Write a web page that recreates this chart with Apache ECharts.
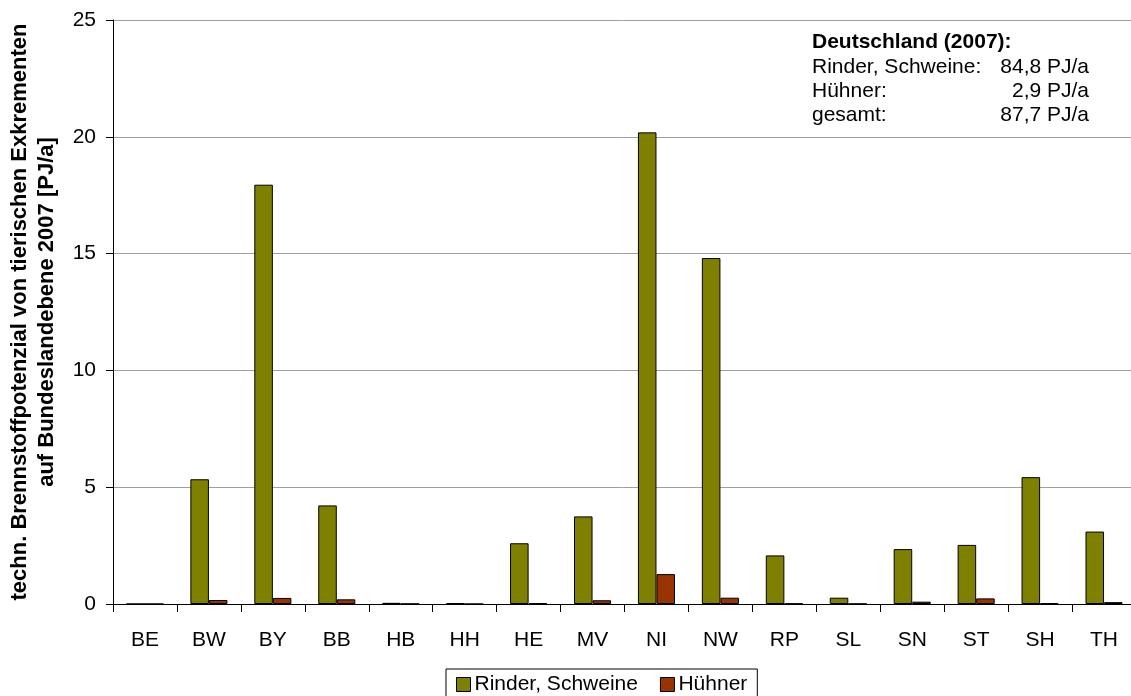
<!DOCTYPE html>
<html>
<head>
<meta charset="utf-8">
<script src="https://cdn.jsdelivr.net/npm/echarts@6/dist/echarts.min.js"></script>
<style>
  html, body { margin: 0; padding: 0; background: #fff; overflow: hidden; }
  #chart { width: 1131px; height: 696px; }
</style>
</head>
<body>
<div id="chart"></div>
<script>
// Bundesländer (Kürzel)
const categories = ['BE', 'BW', 'BY', 'BB', 'HB', 'HH', 'HE', 'MV', 'NI', 'NW', 'RP', 'SL', 'SN', 'ST', 'SH', 'TH'];

// technisches Brennstoffpotenzial in PJ/a
const rinderSchweine = [0, 5.34, 17.95, 4.22, 0.05, 0.03, 2.6, 3.75, 20.19, 14.81, 2.08, 0.27, 2.35, 2.53, 5.43, 3.1];
const huehner        = [0, 0.17, 0.26, 0.2, 0.01, 0, 0.03, 0.16, 1.28, 0.27, 0.02, 0.01, 0.1, 0.24, 0.04, 0.08];

const seriesNames = ['Rinder, Schweine', 'Hühner'];
const yTicks = { min: 0, max: 25, interval: 5 };

// Summenkasten Deutschland
const summaryTitle = 'Deutschland (2007):';
const summaryLabels = ['Rinder, Schweine:', 'Hühner:', 'gesamt:'];
const summaryValues = ['84,8 PJ/a', '2,9 PJ/a', '87,7 PJ/a'];

const FONT = '"Liberation Sans", Arial, sans-serif';
const FS = 21;
const chart = echarts.init(document.getElementById('chart'));

const summaryGraphics = [{
  type: 'text', left: 812, top: 32,
  style: { text: summaryTitle, font: 'bold ' + FS + 'px ' + FONT, fill: '#000' }
}];
summaryLabels.forEach((lab, i) => {
  summaryGraphics.push({
    type: 'text', left: 812, top: 57 + i * 24,
    style: { text: lab, font: FS + 'px ' + FONT, fill: '#000' }
  });
  summaryGraphics.push({
    type: 'text', right: 1131 - 1089, top: 57 + i * 24,
    style: { text: summaryValues[i], font: FS + 'px ' + FONT, fill: '#000', align: 'right' }
  });
});

chart.setOption({
  animation: false,
  backgroundColor: '#fff',
  grid: { left: 113, top: 20, bottom: 92, right: -5, containLabel: false, outerBoundsMode: 'none' },
  legend: {
    data: seriesNames,
    left: 446, top: 669,
    padding: [5, 10, 6, 10],
    borderColor: '#000', borderWidth: 1, borderRadius: 0,
    itemWidth: 14, itemHeight: 14, itemGap: 22,
    textStyle: { fontFamily: FONT, fontSize: FS, color: '#000', padding: [0, 0, 0, -1] },
    icon: 'rect',
    itemStyle: { borderColor: '#000', borderWidth: 1 }
  },
  xAxis: {
    type: 'category',
    data: categories,
    axisLine: { lineStyle: { color: '#000', width: 1 } },
    axisTick: { show: true, length: 8, lineStyle: { color: '#000' }, alignWithLabel: false },
    axisLabel: { fontFamily: FONT, fontSize: FS, color: '#000', margin: 26 },
    splitLine: { show: false }
  },
  yAxis: {
    type: 'value',
    min: yTicks.min, max: yTicks.max, interval: yTicks.interval,
    name: 'techn. Brennstoffpotenzial von tierischen Exkrementen\nauf Bundeslandebene 2007 [PJ/a]',
    nameLocation: 'middle',
    nameGap: 53,
    nameRotate: 90,
    nameTextStyle: { fontFamily: FONT, fontSize: 22, fontWeight: 'bold', color: '#000', lineHeight: 27 },
    axisLine: { show: true, lineStyle: { color: '#000', width: 1 } },
    axisTick: { show: true, length: 7, lineStyle: { color: '#000' } },
    axisLabel: { fontFamily: FONT, fontSize: FS, color: '#000', margin: 17 },
    splitLine: { show: true, lineStyle: { color: '#a0a0a0', width: 1 } }
  },
  series: [
    {
      name: seriesNames[0], type: 'bar', data: rinderSchweine,
      barGap: '0%', barCategoryGap: '42%',
      itemStyle: { color: '#808000', borderColor: '#000', borderWidth: 1 }
    },
    {
      name: seriesNames[1], type: 'bar', data: huehner,
      barGap: '0%', barCategoryGap: '42%',
      itemStyle: { color: '#993300', borderColor: '#000', borderWidth: 1 }
    }
  ],
  graphic: summaryGraphics
});
</script>
</body>
</html>
